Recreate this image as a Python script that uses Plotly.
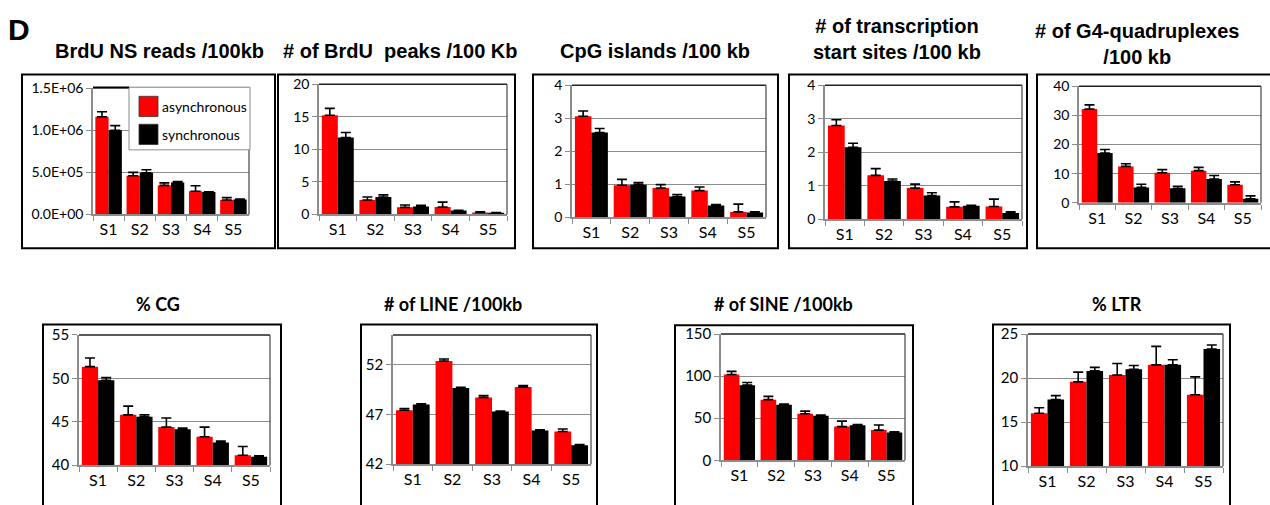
import plotly.graph_objects as go

W, H = 1270, 505

categories = ["S1", "S2", "S3", "S4", "S5"]
series_names = ["asynchronous", "synchronous"]

titles = [
    "BrdU NS reads /100kb",
    "# of BrdU  peaks /100 Kb",
    "CpG islands /100 kb",
    "# of transcription<br>start sites /100 kb",
    "# of G4-quadruplexes<br>/100 kb",
    "% CG",
    "# of LINE /100kb",
    "# of SINE /100kb",
    "% LTR",
]

# panel 1: BrdU NS reads /100kb
brdu_reads_async = [1.16e6, 0.46e6, 0.345e6, 0.275e6, 0.172e6]
brdu_reads_async_err = [0.06e6, 0.04e6, 0.03e6, 0.065e6, 0.028e6]
brdu_reads_sync = [1.0e6, 0.495e6, 0.38e6, 0.265e6, 0.178e6]
brdu_reads_sync_err = [0.055e6, 0.035e6, 0.01e6, 0.005e6, 0.005e6]
brdu_reads_ticks = [0, 5e5, 1e6, 1.5e6]
brdu_reads_ticktext = ["0.0E+00", "5.0E+05", "1.0E+06", "1.5E+06"]

# panel 2: # of BrdU peaks /100 Kb
peaks_async = [15.25, 2.23, 1.09, 1.14, 0.3]
peaks_async_err = [1.05, 0.45, 0.35, 0.75, 0.1]
peaks_sync = [11.83, 2.67, 1.24, 0.6, 0.25]
peaks_sync_err = [0.77, 0.33, 0.15, 0.05, 0.05]

# panel 3: CpG islands /100 kb
cpg_async = [3.06, 0.97, 0.89, 0.81, 0.165]
cpg_async_err = [0.16, 0.18, 0.1, 0.11, 0.235]
cpg_sync = [2.57, 0.99, 0.63, 0.36, 0.15]
cpg_sync_err = [0.12, 0.06, 0.06, 0.03, 0.02]

# panel 4: # of transcription start sites /100 kb
tss_async = [2.8, 1.31, 0.93, 0.37, 0.38]
tss_async_err = [0.17, 0.2, 0.12, 0.15, 0.22]
tss_sync = [2.15, 1.14, 0.71, 0.40, 0.19]
tss_sync_err = [0.12, 0.06, 0.08, 0.02, 0.03]

# panel 5: # of G4-quadruplexes /100 kb
g4_async = [32.15, 12.5, 10.3, 11.05, 6.2]
g4_async_err = [1.45, 0.9, 1.1, 1.1, 1.0]
g4_sync = [17.1, 5.3, 5.0, 8.2, 1.4]
g4_sync_err = [1.2, 1.1, 0.7, 1.2, 1.0]

# panel 6: % CG
cg_async = [51.35, 45.8, 44.39, 43.27, 41.15]
cg_async_err = [1.0, 1.0, 1.04, 1.12, 1.0]
cg_sync = [49.79, 45.58, 44.13, 42.6, 40.97]
cg_sync_err = [0.3, 0.22, 0.15, 0.19, 0.11]

# panel 7: # of LINE /100kb
line_async = [47.43, 52.38, 48.71, 49.76, 45.29]
line_async_err = [0.17, 0.2, 0.19, 0.16, 0.26]
line_sync = [48.0, 49.67, 47.3, 45.39, 43.92]
line_sync_err = [0.07, 0.06, 0.04, 0.06, 0.06]

# panel 8: # of SINE /100kb
sine_async = [101.9, 72.1, 55.3, 40.1, 35.9]
sine_async_err = [3.8, 3.9, 3.1, 6.5, 6.1]
sine_sync = [89.3, 66.0, 53.1, 41.6, 33.2]
sine_sync_err = [3.1, 0.8, 0.7, 0.8, 0.8]

# panel 9: % LTR
ltr_async = [16.0, 19.57, 20.34, 21.5, 18.1]
ltr_async_err = [0.63, 1.1, 1.31, 2.1, 2.04]
ltr_sync = [17.57, 20.81, 20.99, 21.5, 23.29]
ltr_sync_err = [0.43, 0.4, 0.44, 0.58, 0.47]

panels = [
    (brdu_reads_async, brdu_reads_async_err, brdu_reads_sync, brdu_reads_sync_err, [0, 1.5e6], None),
    (peaks_async, peaks_async_err, peaks_sync, peaks_sync_err, [0, 20], 5),
    (cpg_async, cpg_async_err, cpg_sync, cpg_sync_err, [0, 4], 1),
    (tss_async, tss_async_err, tss_sync, tss_sync_err, [0, 4], 1),
    (g4_async, g4_async_err, g4_sync, g4_sync_err, [0, 40], 10),
    (cg_async, cg_async_err, cg_sync, cg_sync_err, [40, 55], 5),
    (line_async, line_async_err, line_sync, line_sync_err, [42, 55], 5),
    (sine_async, sine_async_err, sine_sync, sine_sync_err, [0, 150], 50),
    (ltr_async, ltr_async_err, ltr_sync, ltr_sync_err, [10, 25], 5),
]

# layout geometry in pixels: plot area (x0, x1, y0, y1), outer box, title position
plot_px = [
    (93, 249, 81, 212),
    (319, 507, 77, 212),
    (572, 766, 78, 215),
    (825, 1022, 78, 217),
    (1079, 1261, 79, 200),
    (79, 270, 337, 472),
    (393, 591, 337, 471),
    (721, 905, 336, 467),
    (1028, 1223, 336, 473),
]
box_px = [
    (22, 275, 67, 247),
    (278, 515, 67, 247),
    (533, 778, 67, 247),
    (789, 1027, 67, 247),
    (1037, 1280, 67, 247),
    (43, 281, 326, 515),
    (361, 597, 326, 515),
    (675, 913, 327, 515),
    (993, 1230, 326, 515),
]
title_px = [
    (159, 42), (400, 42), (655, 43), (897, 30), (1137, 35),
    (158, 305), (453, 305), (783, 305), (1117, 305),
]

COLORS = ["#ff0000", "#000000"]
GRID = "#8c8c8c"

fig = go.Figure()
layout = {}
shapes = []
annotations = []

def px_x(v):
    return v / W

def px_y(v):
    return 1 - v / H

for i, (a, ae, s, se, rng, dt) in enumerate(panels):
    n = i + 1
    xa = "x" if n == 1 else f"x{n}"
    ya = "y" if n == 1 else f"y{n}"
    for k, (vals, errs) in enumerate([(a, ae), (s, se)]):
        fig.add_trace(go.Bar(
            x=categories, y=vals, name=series_names[k],
            marker=dict(color=COLORS[k], line=dict(width=0)),
            error_y=dict(type="data", symmetric=False, array=errs,
                         arrayminus=[0] * len(errs), color="#000000",
                         thickness=1.6, width=5),
            xaxis=xa, yaxis=ya, showlegend=False,
        ))
    x0, x1, y0, y1 = plot_px[i]
    xkey = "xaxis" if n == 1 else f"xaxis{n}"
    ykey = "yaxis" if n == 1 else f"yaxis{n}"
    layout[xkey] = dict(
        domain=[px_x(x0), px_x(x1)], anchor=ya, type="category",
        tickson="boundaries", ticks="outside", ticklen=5, tickcolor=GRID,
        showline=True, linecolor=GRID, linewidth=1.5, showgrid=False,
        tickfont=dict(family="Lato", size=16, color="#000"), fixedrange=True,
    )
    yd = dict(
        domain=[px_y(y1), px_y(y0)], anchor=xa, range=rng,
        ticks="outside", ticklen=5, tickcolor=GRID,
        showline=True, linecolor=GRID, linewidth=1.5,
        showgrid=True, gridcolor=GRID, gridwidth=1, zeroline=False,
        tickfont=dict(family="Lato", size=14 if n <= 5 else 15, color="#000"),
        fixedrange=True,
    )
    if dt is None:
        yd.update(tickmode="array", tickvals=brdu_reads_ticks, ticktext=brdu_reads_ticktext)
    else:
        yd.update(tick0=rng[0], dtick=dt)
    layout[ykey] = yd
    # plot area top/right border
    shapes.append(dict(type="line", xref=f"{xa} domain", yref=f"{ya} domain",
                       x0=0, x1=1, y0=1, y1=1, line=dict(color="#222", width=1.5)))
    shapes.append(dict(type="line", xref=f"{xa} domain", yref=f"{ya} domain",
                       x0=1, x1=1, y0=0, y1=1, line=dict(color="#444", width=1.2)))
    # outer box
    bx0, bx1, by0, by1 = box_px[i]
    shapes.append(dict(type="rect", xref="paper", yref="paper",
                       x0=px_x(bx0), x1=px_x(bx1), y0=px_y(by1), y1=px_y(by0),
                       line=dict(color="#000", width=2)))
    tx, ty = title_px[i]
    if n <= 5:
        font = dict(family="Liberation Sans", size=20, color="#000")
    else:
        font = dict(family="Lato", size=18, color="#000")
    annotations.append(dict(text=f"<b>{titles[i]}</b>", x=px_x(tx), y=px_y(ty),
                            xref="paper", yref="paper", showarrow=False,
                            xanchor="center", yanchor="middle", font=font))

# legend (inside first panel)
shapes.append(dict(type="rect", xref="paper", yref="paper", layer="above",
                   x0=px_x(129), x1=px_x(250), y0=px_y(145), y1=px_y(80),
                   fillcolor="white", line=dict(color=GRID, width=1)))
shapes.append(dict(type="line", xref="paper", yref="paper", layer="above",
                   x0=px_x(93), x1=px_x(129), y0=px_y(80), y1=px_y(80),
                   line=dict(color="#000", width=1.5)))
legend_rows = [(100, COLORS[0], series_names[0]), (129, COLORS[1], series_names[1])]
for cy, col, name in legend_rows:
    shapes.append(dict(type="rect", xref="paper", yref="paper", layer="above",
                       x0=px_x(139), x1=px_x(158), y0=px_y(cy + 10.5), y1=px_y(cy - 10.5),
                       fillcolor=col, line=dict(color="#333", width=0.8)))
    annotations.append(dict(text=name, x=px_x(160), y=px_y(cy), xref="paper", yref="paper",
                            showarrow=False, xanchor="left", yanchor="middle",
                            font=dict(family="Lato", size=14, color="#000")))

annotations.append(dict(text="<b>D</b>", x=px_x(6), y=px_y(20), xref="paper", yref="paper",
                        showarrow=False, xanchor="left", yanchor="middle",
                        font=dict(family="Liberation Sans", size=30, color="#000")))

fig.update_layout(
    width=W, height=H, margin=dict(l=0, r=0, t=0, b=0),
    paper_bgcolor="white", plot_bgcolor="white",
    barmode="group", bargap=0.15, bargroupgap=0.0,
    showlegend=False,
    shapes=shapes, annotations=annotations,
    **layout,
)

fig.write_html(
    "out.html",
    config={"displayModeBar": False},
    post_script="document.body.style.margin='0';document.body.style.overflow='hidden';",
)
